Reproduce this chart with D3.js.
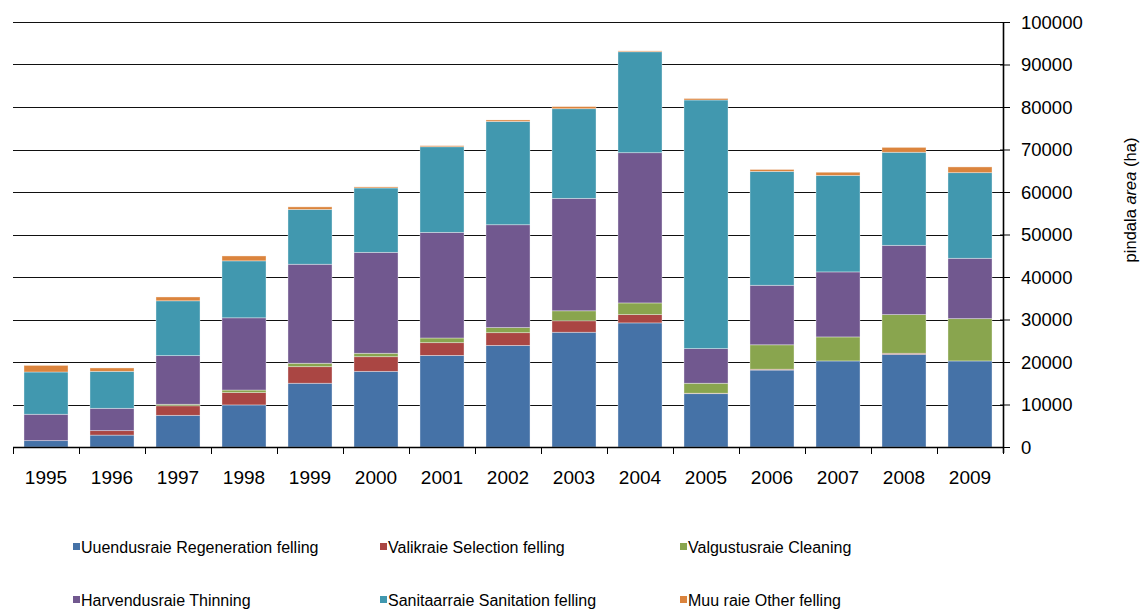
<!DOCTYPE html>
<html>
<head>
<meta charset="utf-8">
<script src="https://cdn.jsdelivr.net/npm/d3@7"></script>
<style>
  html, body { margin: 0; padding: 0; background: #fff; }
  svg { display: block; font-family: "Liberation Sans", Arial, sans-serif; }
</style>
</head>
<body>
<svg id="chart" width="1141" height="610"></svg>
<script>
const years = ["1995","1996","1997","1998","1999","2000","2001","2002","2003","2004","2005","2006","2007","2008","2009"];
const seriesNames = [
  "Uuendusraie Regeneration felling",
  "Valikraie Selection felling",
  "Valgustusraie Cleaning",
  "Harvendusraie Thinning",
  "Sanitaarraie Sanitation felling",
  "Muu raie Other felling"
];
const regeneration = [1500, 2800, 7450, 9900, 15000, 17800, 21550, 23900, 27000, 29200, 12550, 18100, 20250, 21800, 20250];
const selection    = [0, 1050, 2250, 2900, 3900, 3450, 3000, 3000, 2700, 1950, 100, 200, 0, 250, 0];
const cleaning     = [0, 0, 350, 600, 800, 800, 1100, 1200, 2350, 2750, 2350, 5750, 5650, 9100, 9950];
const thinning     = [6200, 5250, 11450, 17000, 23300, 23750, 24850, 24200, 26450, 35350, 8150, 14000, 15300, 16300, 14200];
const sanitation   = [9950, 8700, 12900, 13400, 12900, 15150, 20150, 24300, 21100, 23750, 58500, 26800, 22700, 21900, 20150];
const other        = [1550, 800, 900, 1150, 600, 250, 250, 350, 500, 200, 350, 450, 750, 1150, 1350];
const yTicks = [0, 10000, 20000, 30000, 40000, 50000, 60000, 70000, 80000, 90000, 100000];
const colors = ["#4572A7", "#AA4643", "#89A54E", "#71588F", "#4198AF", "#DB843D"];

(function () {
const seriesValues = [regeneration, selection, cleaning, thinning, sanitation, other];
const keys = seriesNames;
const table = years.map((yr, i) => {
  const row = { year: yr };
  keys.forEach((k, j) => row[k] = seriesValues[j][i]);
  return row;
});

const svg = d3.select("#chart");
const pLeft = 13, pRight = 1003, pTop = 22, pBottom = 447;

const x = d3.scaleBand().domain(years).range([pLeft, pRight]).paddingInner(0.333).paddingOuter(0.1665);
const xb = d3.scaleBand().domain(years).range([pLeft, pRight]).padding(0);
const y = d3.scaleLinear().domain([0, 100000]).range([pBottom, pTop]);

// gridlines
svg.append("g").selectAll("line").data(yTicks.filter(d => d > 0)).join("line")
  .attr("x1", pLeft).attr("x2", pRight)
  .attr("y1", d => Math.round(y(d)) + 0.5).attr("y2", d => Math.round(y(d)) + 0.5)
  .attr("stroke", "#111").attr("stroke-width", 1.1);

// stacked bars
const stack = d3.stack().keys(keys)(table);
svg.append("g").selectAll("g").data(stack).join("g")
  .attr("fill", (d, i) => colors[i])
  .selectAll("rect").data(d => d).join("rect")
  .attr("x", d => x(d.data.year))
  .attr("width", x.bandwidth())
  .attr("y", d => y(d[1]))
  .attr("height", d => Math.max(0, y(d[0]) - y(d[1])))
  .attr("stroke", "rgba(255,255,255,0.45)")
  .attr("stroke-width", 0.8);

// x axis
const gx = svg.append("g").attr("transform", `translate(0,${pBottom})`);
gx.append("line").attr("x1", pLeft).attr("x2", pRight).attr("y1", 0.5).attr("y2", 0.5)
  .attr("stroke", "#000").attr("stroke-width", 1.3);
const bounds = years.map(yv => xb(yv)).concat([pRight]);
gx.selectAll("line.tk").data(bounds).join("line").attr("class", "tk")
  .attr("x1", d => Math.round(d) + 0.5).attr("x2", d => Math.round(d) + 0.5)
  .attr("y1", 0).attr("y2", 7).attr("stroke", "#000");
gx.selectAll("text.lab").data(years).join("text").attr("class", "lab")
  .attr("x", d => xb(d) + xb.bandwidth() / 2)
  .attr("y", 37)
  .attr("text-anchor", "middle")
  .attr("font-size", "19px")
  .attr("fill", "#000")
  .text(d => d);

// right y axis
const yAxis = d3.axisRight(y).tickValues(yTicks).tickSize(7).tickPadding(11).tickFormat(d3.format("d"));
const gy = svg.append("g").attr("transform", `translate(${pRight},0)`).call(yAxis);
gy.select(".domain").attr("stroke", "#000").attr("stroke-width", 1.6).attr("d", `M0.5,${pTop}V${pBottom + 6}`);
gy.selectAll(".tick line").attr("stroke", "#000").attr("x1", -3);
gy.selectAll(".tick text").attr("font-size", "18.5px").attr("fill", "#000")
  .attr("font-family", "Liberation Sans, Arial, sans-serif").attr("dy", "0.34em");

// y title
const title = svg.append("text")
  .attr("transform", `translate(1136,200) rotate(-90)`)
  .attr("text-anchor", "middle")
  .attr("font-size", "16.5px")
  .attr("fill", "#000");
title.append("tspan").text("pindala ");
title.append("tspan").attr("font-style", "italic").text("area");
title.append("tspan").text(" (ha)");

// legend
const legendPos = [
  [73, 547], [380, 547], [680, 547],
  [73, 600], [380, 600], [680, 600]
];
const lg = svg.append("g").selectAll("g").data(seriesNames).join("g")
  .attr("transform", (d, i) => `translate(${legendPos[i][0]},${legendPos[i][1]})`);
lg.append("rect").attr("x", 0).attr("y", -4).attr("width", 7).attr("height", 7)
  .attr("fill", (d, i) => colors[i]);
lg.append("text").attr("x", 8).attr("y", 0).attr("dy", "0.35em")
  .attr("font-size", "16px").attr("fill", "#000").text(d => d);
})();
</script>
</body>
</html>
